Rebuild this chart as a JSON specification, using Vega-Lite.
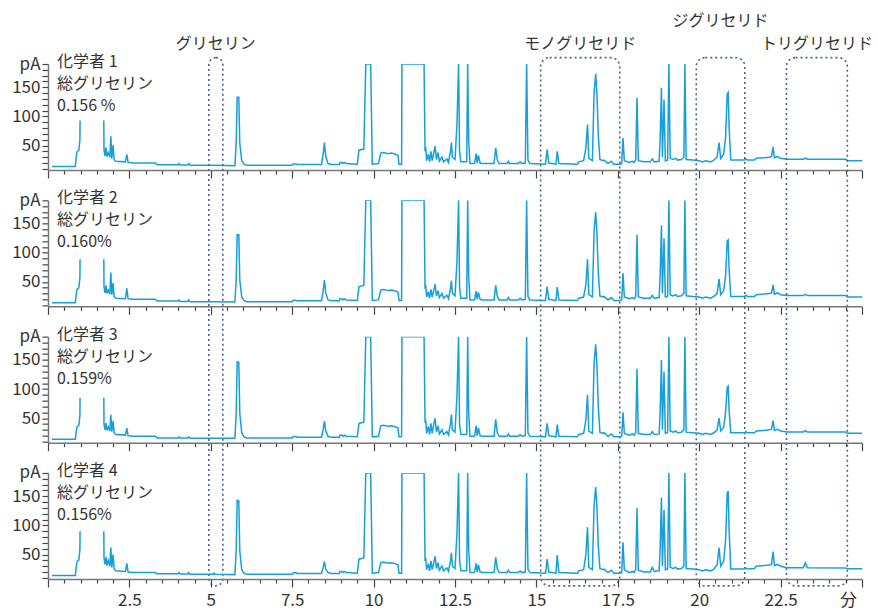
{
  "$schema": "https://vega.github.io/schema/vega-lite/v6.json",
  "padding": {"left": 11, "top": 13, "right": 0, "bottom": 4},
  "spacing": 30.33,
  "bounds": "flush",
  "config": {
    "view": {"stroke": null},
    "axis": {
      "grid": false,
      "labelFont": "Liberation Sans Narrow, Noto Sans CJK JP, sans-serif",
      "labelFontSize": 17,
      "labelColor": "#333333",
      "domainColor": "#777777",
      "domainWidth": 1.5,
      "tickColor": "#444444",
      "tickWidth": 1.2
    }
  },
  "datasets": {
    "gc": [
      {"t":0.12,"s1":14,"s2":14,"s3":14,"s4":14},
      {"t":0.84,"s1":14,"s2":14,"s3":14,"s4":14},
      {"t":0.86,"s1":26,"s2":25,"s3":24,"s4":26},
      {"t":0.89,"s1":39,"s2":37,"s3":35,"s4":38},
      {"t":0.95,"s1":42,"s2":40,"s3":38,"s4":41},
      {"t":0.98,"s1":60,"s2":58,"s3":55,"s4":60},
      {"t":1.00,"s1":185,"s2":185,"s3":185,"s4":185},
      {"t":1.70,"s1":185,"s2":185,"s3":185,"s4":185},
      {"t":1.72,"s1":43,"s2":42,"s3":40,"s4":44},
      {"t":1.75,"s1":32,"s2":31,"s3":30,"s4":33},
      {"t":1.78,"s1":47,"s2":44,"s3":42,"s4":46},
      {"t":1.81,"s1":31,"s2":30,"s3":29,"s4":31},
      {"t":1.85,"s1":38,"s2":36,"s3":35,"s4":40},
      {"t":1.90,"s1":30,"s2":29,"s3":28,"s4":30},
      {"t":1.93,"s1":66,"s2":66,"s3":56,"s4":62},
      {"t":1.96,"s1":28,"s2":28,"s3":27,"s4":28},
      {"t":2.00,"s1":51,"s2":48,"s3":45,"s4":50},
      {"t":2.03,"s1":26,"s2":25,"s3":25,"s4":26},
      {"t":2.08,"s1":23,"s2":22,"s3":22,"s4":22},
      {"t":2.38,"s1":22,"s2":21,"s3":21,"s4":21},
      {"t":2.42,"s1":35,"s2":39,"s3":33,"s4":35},
      {"t":2.46,"s1":21,"s2":21,"s3":20,"s4":20},
      {"t":2.60,"s1":20,"s2":20,"s3":19,"s4":19},
      {"t":3.30,"s1":20,"s2":20,"s3":19,"s4":19},
      {"t":3.35,"s1":17,"s2":17,"s3":16,"s4":17},
      {"t":4.00,"s1":17,"s2":17,"s3":16,"s4":17},
      {"t":4.02,"s1":19,"s2":19,"s3":18,"s4":19},
      {"t":4.06,"s1":16.5,"s2":16.5,"s3":16,"s4":16.5},
      {"t":4.30,"s1":16.5,"s2":16.5,"s3":16,"s4":16.5},
      {"t":4.32,"s1":19,"s2":19,"s3":18,"s4":19},
      {"t":4.37,"s1":16,"s2":16,"s3":15.5,"s4":16},
      {"t":5.08,"s1":16,"s2":16,"s3":15.5,"s4":16},
      {"t":5.10,"s1":16,"s2":16,"s3":15.5,"s4":18},
      {"t":5.13,"s1":16,"s2":16,"s3":15.5,"s4":16},
      {"t":5.74,"s1":15.5,"s2":15.5,"s3":15.5,"s4":15.5},
      {"t":5.78,"s1":55,"s2":54,"s3":58,"s4":57},
      {"t":5.81,"s1":133,"s2":131,"s3":147,"s4":143},
      {"t":5.86,"s1":133,"s2":131,"s3":146,"s4":142},
      {"t":5.89,"s1":54,"s2":53,"s3":58,"s4":56},
      {"t":5.95,"s1":24,"s2":24,"s3":25,"s4":24},
      {"t":6.02,"s1":18,"s2":18,"s3":18,"s4":18},
      {"t":6.10,"s1":16,"s2":16,"s3":16,"s4":16},
      {"t":7.50,"s1":16,"s2":16,"s3":16,"s4":16},
      {"t":7.53,"s1":18.5,"s2":18.5,"s3":18.5,"s4":18.5},
      {"t":7.62,"s1":18.5,"s2":18.5,"s3":18.5,"s4":18.5},
      {"t":7.65,"s1":17.5,"s2":17.5,"s3":17.5,"s4":17.5},
      {"t":8.40,"s1":17.5,"s2":17.5,"s3":17.5,"s4":17.5},
      {"t":8.45,"s1":35,"s2":34,"s3":30,"s4":27},
      {"t":8.49,"s1":55,"s2":53,"s3":45,"s4":38},
      {"t":8.53,"s1":32,"s2":31,"s3":28,"s4":25},
      {"t":8.60,"s1":19,"s2":19,"s3":19,"s4":19},
      {"t":8.70,"s1":17.5,"s2":17.5,"s3":17.5,"s4":17.5},
      {"t":8.95,"s1":17.5,"s2":17.5,"s3":17.5,"s4":17.5},
      {"t":8.97,"s1":21,"s2":21,"s3":21,"s4":21},
      {"t":9.02,"s1":21,"s2":21,"s3":21,"s4":21},
      {"t":9.05,"s1":19,"s2":19,"s3":19,"s4":19},
      {"t":9.10,"s1":21,"s2":21,"s3":21,"s4":21},
      {"t":9.16,"s1":19,"s2":19,"s3":19,"s4":19},
      {"t":9.50,"s1":18,"s2":18,"s3":18,"s4":18},
      {"t":9.55,"s1":42,"s2":42,"s3":41,"s4":42},
      {"t":9.70,"s1":44,"s2":44,"s3":43,"s4":44},
      {"t":9.76,"s1":190,"s2":190,"s3":190,"s4":190},
      {"t":9.91,"s1":190,"s2":190,"s3":190,"s4":190},
      {"t":9.96,"s1":18,"s2":18,"s3":18,"s4":18},
      {"t":10.15,"s1":19,"s2":19,"s3":19,"s4":19},
      {"t":10.22,"s1":37,"s2":36,"s3":37,"s4":36},
      {"t":10.30,"s1":38,"s2":37,"s3":38,"s4":37},
      {"t":10.45,"s1":36,"s2":35,"s3":36,"s4":35},
      {"t":10.55,"s1":37,"s2":36,"s3":37,"s4":36},
      {"t":10.68,"s1":35,"s2":34,"s3":35,"s4":34},
      {"t":10.75,"s1":33,"s2":32,"s3":33,"s4":32},
      {"t":10.78,"s1":18,"s2":18,"s3":18,"s4":18},
      {"t":10.86,"s1":18,"s2":18,"s3":18,"s4":18},
      {"t":10.87,"s1":190,"s2":190,"s3":190,"s4":190},
      {"t":11.55,"s1":190,"s2":190,"s3":190,"s4":190},
      {"t":11.58,"s1":40,"s2":38,"s3":42,"s4":39},
      {"t":11.60,"s1":48,"s2":45,"s3":47,"s4":44},
      {"t":11.63,"s1":24,"s2":24,"s3":24,"s4":24},
      {"t":11.68,"s1":35,"s2":33,"s3":36,"s4":34},
      {"t":11.72,"s1":22,"s2":22,"s3":22,"s4":22},
      {"t":11.76,"s1":40,"s2":37,"s3":41,"s4":39},
      {"t":11.80,"s1":24,"s2":24,"s3":24,"s4":24},
      {"t":11.85,"s1":38,"s2":36,"s3":40,"s4":37},
      {"t":11.89,"s1":49,"s2":46,"s3":50,"s4":47},
      {"t":11.93,"s1":26,"s2":26,"s3":26,"s4":26},
      {"t":11.98,"s1":38,"s2":35,"s3":37,"s4":36},
      {"t":12.02,"s1":23,"s2":23,"s3":23,"s4":23},
      {"t":12.10,"s1":30,"s2":30,"s3":30,"s4":30},
      {"t":12.15,"s1":22,"s2":22,"s3":22,"s4":22},
      {"t":12.25,"s1":27,"s2":27,"s3":27,"s4":27},
      {"t":12.30,"s1":21,"s2":21,"s3":21,"s4":21},
      {"t":12.36,"s1":40,"s2":38,"s3":41,"s4":39},
      {"t":12.39,"s1":55,"s2":52,"s3":56,"s4":53},
      {"t":12.42,"s1":30,"s2":30,"s3":30,"s4":30},
      {"t":12.50,"s1":26,"s2":26,"s3":26,"s4":26},
      {"t":12.56,"s1":86,"s2":84,"s3":88,"s4":85},
      {"t":12.61,"s1":190,"s2":190,"s3":190,"s4":190},
      {"t":12.64,"s1":40,"s2":40,"s3":40,"s4":40},
      {"t":12.68,"s1":22,"s2":22,"s3":22,"s4":22},
      {"t":12.86,"s1":22,"s2":22,"s3":22,"s4":22},
      {"t":12.89,"s1":190,"s2":190,"s3":190,"s4":190},
      {"t":12.92,"s1":60,"s2":60,"s3":60,"s4":60},
      {"t":12.96,"s1":19,"s2":19,"s3":19,"s4":19},
      {"t":13.10,"s1":19,"s2":19,"s3":19,"s4":19},
      {"t":13.15,"s1":36,"s2":34,"s3":37,"s4":35},
      {"t":13.18,"s1":20,"s2":20,"s3":20,"s4":20},
      {"t":13.22,"s1":33,"s2":32,"s3":33,"s4":32},
      {"t":13.27,"s1":20,"s2":20,"s3":20,"s4":20},
      {"t":13.35,"s1":19,"s2":19,"s3":19,"s4":19},
      {"t":13.70,"s1":19,"s2":19,"s3":19,"s4":19},
      {"t":13.75,"s1":46,"s2":44,"s3":48,"s4":45},
      {"t":13.80,"s1":25,"s2":25,"s3":25,"s4":25},
      {"t":13.86,"s1":19,"s2":19,"s3":19,"s4":19},
      {"t":14.10,"s1":19,"s2":19,"s3":19,"s4":19},
      {"t":14.14,"s1":23,"s2":23,"s3":23,"s4":23},
      {"t":14.18,"s1":19,"s2":19,"s3":19,"s4":19},
      {"t":14.45,"s1":19,"s2":19,"s3":19,"s4":19},
      {"t":14.50,"s1":22,"s2":22,"s3":22,"s4":22},
      {"t":14.55,"s1":19,"s2":19,"s3":19,"s4":19},
      {"t":14.66,"s1":20,"s2":20,"s3":20,"s4":20},
      {"t":14.70,"s1":190,"s2":190,"s3":190,"s4":190},
      {"t":14.74,"s1":25,"s2":25,"s3":25,"s4":25},
      {"t":14.80,"s1":19,"s2":19,"s3":19,"s4":19},
      {"t":15.28,"s1":18,"s2":18,"s3":18,"s4":18},
      {"t":15.33,"s1":43,"s2":42,"s3":41,"s4":42},
      {"t":15.38,"s1":20,"s2":20,"s3":20,"s4":20},
      {"t":15.60,"s1":18,"s2":18,"s3":18,"s4":18},
      {"t":15.64,"s1":40,"s2":41,"s3":39,"s4":49},
      {"t":15.69,"s1":19,"s2":19,"s3":19,"s4":19},
      {"t":16.26,"s1":18,"s2":18,"s3":18,"s4":18},
      {"t":16.30,"s1":22,"s2":22,"s3":22,"s4":22},
      {"t":16.45,"s1":24,"s2":24,"s3":24,"s4":24},
      {"t":16.52,"s1":46,"s2":45,"s3":47,"s4":50},
      {"t":16.57,"s1":86,"s2":89,"s3":90,"s4":97},
      {"t":16.61,"s1":28,"s2":28,"s3":28,"s4":28},
      {"t":16.72,"s1":24,"s2":24,"s3":24,"s4":24},
      {"t":16.77,"s1":138,"s2":135,"s3":142,"s4":132},
      {"t":16.82,"s1":173,"s2":170,"s3":177,"s4":166},
      {"t":16.86,"s1":138,"s2":135,"s3":142,"s4":132},
      {"t":16.90,"s1":69,"s2":67,"s3":71,"s4":66},
      {"t":16.95,"s1":26,"s2":26,"s3":26,"s4":26},
      {"t":17.05,"s1":24,"s2":24,"s3":24,"s4":24},
      {"t":17.08,"s1":25,"s2":25,"s3":25,"s4":25},
      {"t":17.20,"s1":19,"s2":19,"s3":19,"s4":19},
      {"t":17.30,"s1":23,"s2":23,"s3":23,"s4":23},
      {"t":17.38,"s1":18,"s2":18,"s3":18,"s4":18},
      {"t":17.55,"s1":18,"s2":18,"s3":18,"s4":18},
      {"t":17.62,"s1":19,"s2":19,"s3":19,"s4":19},
      {"t":17.66,"s1":63,"s2":65,"s3":60,"s4":71},
      {"t":17.70,"s1":24,"s2":24,"s3":24,"s4":24},
      {"t":17.85,"s1":21,"s2":21,"s3":21,"s4":19},
      {"t":17.95,"s1":23,"s2":23,"s3":23,"s4":21},
      {"t":18.00,"s1":21,"s2":21,"s3":21,"s4":19},
      {"t":18.05,"s1":25,"s2":25,"s3":25,"s4":24},
      {"t":18.09,"s1":132,"s2":131,"s3":135,"s4":130},
      {"t":18.13,"s1":24,"s2":24,"s3":24,"s4":23},
      {"t":18.30,"s1":22,"s2":22,"s3":22,"s4":20},
      {"t":18.50,"s1":22,"s2":22,"s3":22,"s4":20},
      {"t":18.56,"s1":27,"s2":27,"s3":27,"s4":28},
      {"t":18.62,"s1":22,"s2":22,"s3":22,"s4":21},
      {"t":18.77,"s1":23,"s2":23,"s3":23,"s4":22},
      {"t":18.80,"s1":60,"s2":60,"s3":60,"s4":60},
      {"t":18.84,"s1":149,"s2":147,"s3":150,"s4":148},
      {"t":18.87,"s1":30,"s2":30,"s3":30,"s4":30},
      {"t":18.92,"s1":129,"s2":125,"s3":130,"s4":127},
      {"t":18.96,"s1":24,"s2":24,"s3":24,"s4":24},
      {"t":19.03,"s1":25,"s2":25,"s3":25,"s4":25},
      {"t":19.07,"s1":190,"s2":190,"s3":190,"s4":190},
      {"t":19.11,"s1":28,"s2":28,"s3":28,"s4":28},
      {"t":19.20,"s1":26,"s2":26,"s3":26,"s4":26},
      {"t":19.28,"s1":28,"s2":28,"s3":28,"s4":28},
      {"t":19.33,"s1":25,"s2":25,"s3":25,"s4":25},
      {"t":19.45,"s1":26,"s2":26,"s3":26,"s4":26},
      {"t":19.53,"s1":30,"s2":30,"s3":30,"s4":30},
      {"t":19.56,"s1":190,"s2":190,"s3":190,"s4":190},
      {"t":19.60,"s1":26,"s2":26,"s3":26,"s4":26},
      {"t":19.80,"s1":25,"s2":25,"s3":25,"s4":25},
      {"t":20.00,"s1":24,"s2":24,"s3":24,"s4":24},
      {"t":20.10,"s1":22,"s2":22,"s3":22,"s4":22},
      {"t":20.20,"s1":24,"s2":24,"s3":24,"s4":24},
      {"t":20.35,"s1":22,"s2":22,"s3":22,"s4":22},
      {"t":20.45,"s1":25,"s2":25,"s3":25,"s4":25},
      {"t":20.55,"s1":30,"s2":30,"s3":30,"s4":32},
      {"t":20.61,"s1":55,"s2":55,"s3":50,"s4":62},
      {"t":20.66,"s1":28,"s2":28,"s3":28,"s4":30},
      {"t":20.75,"s1":35,"s2":35,"s3":34,"s4":38},
      {"t":20.81,"s1":63,"s2":60,"s3":60,"s4":74},
      {"t":20.86,"s1":138,"s2":120,"s3":103,"s4":155},
      {"t":20.89,"s1":141,"s2":122,"s3":105,"s4":159},
      {"t":20.92,"s1":80,"s2":70,"s3":62,"s4":90},
      {"t":20.97,"s1":25,"s2":25,"s3":25,"s4":25},
      {"t":21.40,"s1":25,"s2":25,"s3":25,"s4":25},
      {"t":21.43,"s1":27,"s2":27,"s3":27,"s4":27},
      {"t":21.48,"s1":25,"s2":25,"s3":25,"s4":25},
      {"t":21.70,"s1":25,"s2":25,"s3":25,"s4":26},
      {"t":21.75,"s1":28,"s2":28,"s3":28,"s4":30},
      {"t":22.00,"s1":29,"s2":29,"s3":29,"s4":31},
      {"t":22.15,"s1":30,"s2":30,"s3":30,"s4":32},
      {"t":22.22,"s1":31,"s2":31,"s3":31,"s4":33},
      {"t":22.27,"s1":47.5,"s2":45,"s3":46,"s4":55},
      {"t":22.31,"s1":29,"s2":29,"s3":29,"s4":31},
      {"t":22.40,"s1":31,"s2":31,"s3":31,"s4":33},
      {"t":22.50,"s1":28,"s2":28,"s3":28,"s4":30},
      {"t":22.70,"s1":26.5,"s2":26.5,"s3":26.5,"s4":27.5},
      {"t":23.20,"s1":26.5,"s2":26.5,"s3":26.5,"s4":27.5},
      {"t":23.26,"s1":28.5,"s2":28.5,"s3":28.5,"s4":36},
      {"t":23.32,"s1":26.5,"s2":26.5,"s3":26.5,"s4":27.5},
      {"t":24.50,"s1":26.5,"s2":26.5,"s3":26.5,"s4":27},
      {"t":24.55,"s1":24,"s2":24,"s3":24,"s4":25.5},
      {"t":25.00,"s1":24,"s2":24,"s3":24,"s4":25.5}
    ],
    "notes": [
      {"panel": 1, "text": "化学者 1\n総グリセリン\n0.156 %", "cover": 93},
      {"panel": 2, "text": "化学者 2\n総グリセリン\n0.160%", "cover": 89},
      {"panel": 3, "text": "化学者 3\n総グリセリン\n0.159%", "cover": 85},
      {"panel": 4, "text": "化学者 4\n総グリセリン\n0.156%", "cover": 90}
    ],
    "zones": [
      {"zone": "グリセリン", "from": 4.94, "to": 5.37},
      {"zone": "モノグリセリド", "from": 15.13, "to": 17.56},
      {"zone": "ジグリセリド", "from": 19.91, "to": 21.40},
      {"zone": "トリグリセリド", "from": 22.68, "to": 24.55}
    ]
  },
  "vconcat": [
    {
      "width": 814, "height": 106,
      "resolve": {"axis": {"x": "independent", "y": "independent"}},
      "layer": [
        {
          "data": {"name": "gc"},
          "mark": {"type": "line", "color": "#14a0dc", "strokeWidth": 1.5, "clip": true},
          "encoding": {
            "x": {"field": "t", "type": "quantitative", "scale": {"domain": [0, 25], "nice": false, "zero": false},
              "axis": {"title": null, "labels": false, "values": [0,0.5,1,1.5,2,2.5,3,3.5,4,4.5,5,5.5,6,6.5,7,7.5,8,8.5,9,9.5,10,10.5,11,11.5,12,12.5,13,13.5,14,14.5,15,15.5,16,16.5,17,17.5,18,18.5,19,19.5,20,20.5,21,21.5,22,22.5,23,23.5,24,24.5,25],
                "tickSize": {"condition": {"test": "datum.value % 2.5 == 0", "value": 8}, "value": 4}}},
            "y": {"field": "s1", "type": "quantitative", "scale": {"domain": [8, 190], "nice": false, "zero": false},
              "axis": {"title": null, "values": [10,20,30,40,50,60,70,80,90,100,110,120,130,140,150,160,170,180,190], "format": "d",
                "labelExpr": "datum.value == 190 ? 'pA' : (datum.value % 50 == 0 ? datum.label : '')", "labelOverlap": false, "tickSize": 6, "labelPadding": 2}}
          }
        },
        {
          "data": {"name": "notes"}, "transform": [{"filter": "datum.panel == 1"}],
          "mark": {"type": "rect", "fill": "white"},
          "encoding": {"x": {"datum": 0.18, "type": "quantitative", "axis": null}, "x2": {"datum": 3.45}, "y": {"field": "cover", "type": "quantitative", "axis": null}, "y2": {"datum": 199}}
        },
        {
          "data": {"name": "notes"}, "transform": [{"filter": "datum.panel == 1"}],
          "mark": {"type": "text", "align": "left", "baseline": "top", "dy": -10, "fontSize": 16, "lineHeight": 22, "lineBreak": "\n", "font": "Liberation Sans Narrow, Noto Sans CJK JP, sans-serif", "color": "#333333"},
          "encoding": {"x": {"datum": 0.28, "type": "quantitative", "axis": null}, "y": {"datum": 190, "type": "quantitative", "axis": null}, "text": {"field": "text"}}
        },
        {
          "data": {"name": "zones"},
          "mark": {"type": "rect", "fill": "white", "fillOpacity": 0, "stroke": "#48668c", "strokeWidth": 1.6, "strokeDash": [2, 3], "cornerRadius": 9},
          "encoding": {"x": {"field": "from", "type": "quantitative", "axis": null}, "x2": {"field": "to"}, "y": {"datum": 201, "type": "quantitative", "axis": null}, "y2": {"datum": -706}}
        },
        {
          "data": {"name": "zones"},
          "transform": [
            {"calculate": "(datum.from + datum.to) / 2", "as": "mid"},
            {"calculate": "datum.zone === 'ジグリセリド' ? 263 : 224", "as": "lift"}
          ],
          "mark": {"type": "text", "fontSize": 16, "font": "Noto Sans CJK JP", "color": "#333333", "baseline": "middle"},
          "encoding": {"x": {"field": "mid", "type": "quantitative", "axis": null}, "y": {"field": "lift", "type": "quantitative", "axis": null}, "text": {"field": "zone"}}
        }
      ]
    },
    {
      "width": 814, "height": 106,
      "resolve": {"axis": {"x": "independent", "y": "independent"}},
      "layer": [
        {
          "data": {"name": "gc"},
          "mark": {"type": "line", "color": "#14a0dc", "strokeWidth": 1.5, "clip": true},
          "encoding": {
            "x": {"field": "t", "type": "quantitative", "scale": {"domain": [0, 25], "nice": false, "zero": false},
              "axis": {"title": null, "labels": false, "values": [0,0.5,1,1.5,2,2.5,3,3.5,4,4.5,5,5.5,6,6.5,7,7.5,8,8.5,9,9.5,10,10.5,11,11.5,12,12.5,13,13.5,14,14.5,15,15.5,16,16.5,17,17.5,18,18.5,19,19.5,20,20.5,21,21.5,22,22.5,23,23.5,24,24.5,25],
                "tickSize": {"condition": {"test": "datum.value % 2.5 == 0", "value": 8}, "value": 4}}},
            "y": {"field": "s2", "type": "quantitative", "scale": {"domain": [8, 190], "nice": false, "zero": false},
              "axis": {"title": null, "values": [10,20,30,40,50,60,70,80,90,100,110,120,130,140,150,160,170,180,190], "format": "d",
                "labelExpr": "datum.value == 190 ? 'pA' : (datum.value % 50 == 0 ? datum.label : '')", "labelOverlap": false, "tickSize": 6, "labelPadding": 2}}
          }
        },
        {
          "data": {"name": "notes"}, "transform": [{"filter": "datum.panel == 2"}],
          "mark": {"type": "rect", "fill": "white"},
          "encoding": {"x": {"datum": 0.18, "type": "quantitative", "axis": null}, "x2": {"datum": 3.45}, "y": {"field": "cover", "type": "quantitative", "axis": null}, "y2": {"datum": 199}}
        },
        {
          "data": {"name": "notes"}, "transform": [{"filter": "datum.panel == 2"}],
          "mark": {"type": "text", "align": "left", "baseline": "top", "dy": -10, "fontSize": 16, "lineHeight": 22, "lineBreak": "\n", "font": "Liberation Sans Narrow, Noto Sans CJK JP, sans-serif", "color": "#333333"},
          "encoding": {"x": {"datum": 0.28, "type": "quantitative", "axis": null}, "y": {"datum": 190, "type": "quantitative", "axis": null}, "text": {"field": "text"}}
        }
      ]
    },
    {
      "width": 814, "height": 106,
      "resolve": {"axis": {"x": "independent", "y": "independent"}},
      "layer": [
        {
          "data": {"name": "gc"},
          "mark": {"type": "line", "color": "#14a0dc", "strokeWidth": 1.5, "clip": true},
          "encoding": {
            "x": {"field": "t", "type": "quantitative", "scale": {"domain": [0, 25], "nice": false, "zero": false},
              "axis": {"title": null, "labels": false, "values": [0,0.5,1,1.5,2,2.5,3,3.5,4,4.5,5,5.5,6,6.5,7,7.5,8,8.5,9,9.5,10,10.5,11,11.5,12,12.5,13,13.5,14,14.5,15,15.5,16,16.5,17,17.5,18,18.5,19,19.5,20,20.5,21,21.5,22,22.5,23,23.5,24,24.5,25],
                "tickSize": {"condition": {"test": "datum.value % 2.5 == 0", "value": 8}, "value": 4}}},
            "y": {"field": "s3", "type": "quantitative", "scale": {"domain": [8, 190], "nice": false, "zero": false},
              "axis": {"title": null, "values": [10,20,30,40,50,60,70,80,90,100,110,120,130,140,150,160,170,180,190], "format": "d",
                "labelExpr": "datum.value == 190 ? 'pA' : (datum.value % 50 == 0 ? datum.label : '')", "labelOverlap": false, "tickSize": 6, "labelPadding": 2}}
          }
        },
        {
          "data": {"name": "notes"}, "transform": [{"filter": "datum.panel == 3"}],
          "mark": {"type": "rect", "fill": "white"},
          "encoding": {"x": {"datum": 0.18, "type": "quantitative", "axis": null}, "x2": {"datum": 3.45}, "y": {"field": "cover", "type": "quantitative", "axis": null}, "y2": {"datum": 199}}
        },
        {
          "data": {"name": "notes"}, "transform": [{"filter": "datum.panel == 3"}],
          "mark": {"type": "text", "align": "left", "baseline": "top", "dy": -10, "fontSize": 16, "lineHeight": 22, "lineBreak": "\n", "font": "Liberation Sans Narrow, Noto Sans CJK JP, sans-serif", "color": "#333333"},
          "encoding": {"x": {"datum": 0.28, "type": "quantitative", "axis": null}, "y": {"datum": 190, "type": "quantitative", "axis": null}, "text": {"field": "text"}}
        }
      ]
    },
    {
      "width": 814, "height": 106,
      "resolve": {"axis": {"x": "independent", "y": "independent"}},
      "layer": [
        {
          "data": {"name": "gc"},
          "mark": {"type": "line", "color": "#14a0dc", "strokeWidth": 1.5, "clip": true},
          "encoding": {
            "x": {"field": "t", "type": "quantitative", "scale": {"domain": [0, 25], "nice": false, "zero": false},
              "axis": {"title": null, "format": "~g", "labelFlush": false, "labelOverlap": false, "labelPadding": 6,
                "values": [0,0.5,1,1.5,2,2.5,3,3.5,4,4.5,5,5.5,6,6.5,7,7.5,8,8.5,9,9.5,10,10.5,11,11.5,12,12.5,13,13.5,14,14.5,15,15.5,16,16.5,17,17.5,18,18.5,19,19.5,20,20.5,21,21.5,22,22.5,23,23.5,24,24.5,25],
                "labelExpr": "datum.value == 25 ? '分' : (datum.value % 2.5 == 0 && datum.value > 0 ? datum.label : '')",
                "labelOffset": {"condition": {"test": "datum.value == 25", "value": -14}, "value": 0},
                "tickSize": {"condition": {"test": "datum.value % 2.5 == 0", "value": 8}, "value": 4}}},
            "y": {"field": "s4", "type": "quantitative", "scale": {"domain": [8, 190], "nice": false, "zero": false},
              "axis": {"title": null, "values": [10,20,30,40,50,60,70,80,90,100,110,120,130,140,150,160,170,180,190], "format": "d",
                "labelExpr": "datum.value == 190 ? 'pA' : (datum.value % 50 == 0 ? datum.label : '')", "labelOverlap": false, "tickSize": 6, "labelPadding": 2}}
          }
        },
        {
          "data": {"name": "notes"}, "transform": [{"filter": "datum.panel == 4"}],
          "mark": {"type": "rect", "fill": "white"},
          "encoding": {"x": {"datum": 0.18, "type": "quantitative", "axis": null}, "x2": {"datum": 3.45}, "y": {"field": "cover", "type": "quantitative", "axis": null}, "y2": {"datum": 199}}
        },
        {
          "data": {"name": "notes"}, "transform": [{"filter": "datum.panel == 4"}],
          "mark": {"type": "text", "align": "left", "baseline": "top", "dy": -10, "fontSize": 16, "lineHeight": 22, "lineBreak": "\n", "font": "Liberation Sans Narrow, Noto Sans CJK JP, sans-serif", "color": "#333333"},
          "encoding": {"x": {"datum": 0.28, "type": "quantitative", "axis": null}, "y": {"datum": 190, "type": "quantitative", "axis": null}, "text": {"field": "text"}}
        }
      ]
    }
  ]
}
